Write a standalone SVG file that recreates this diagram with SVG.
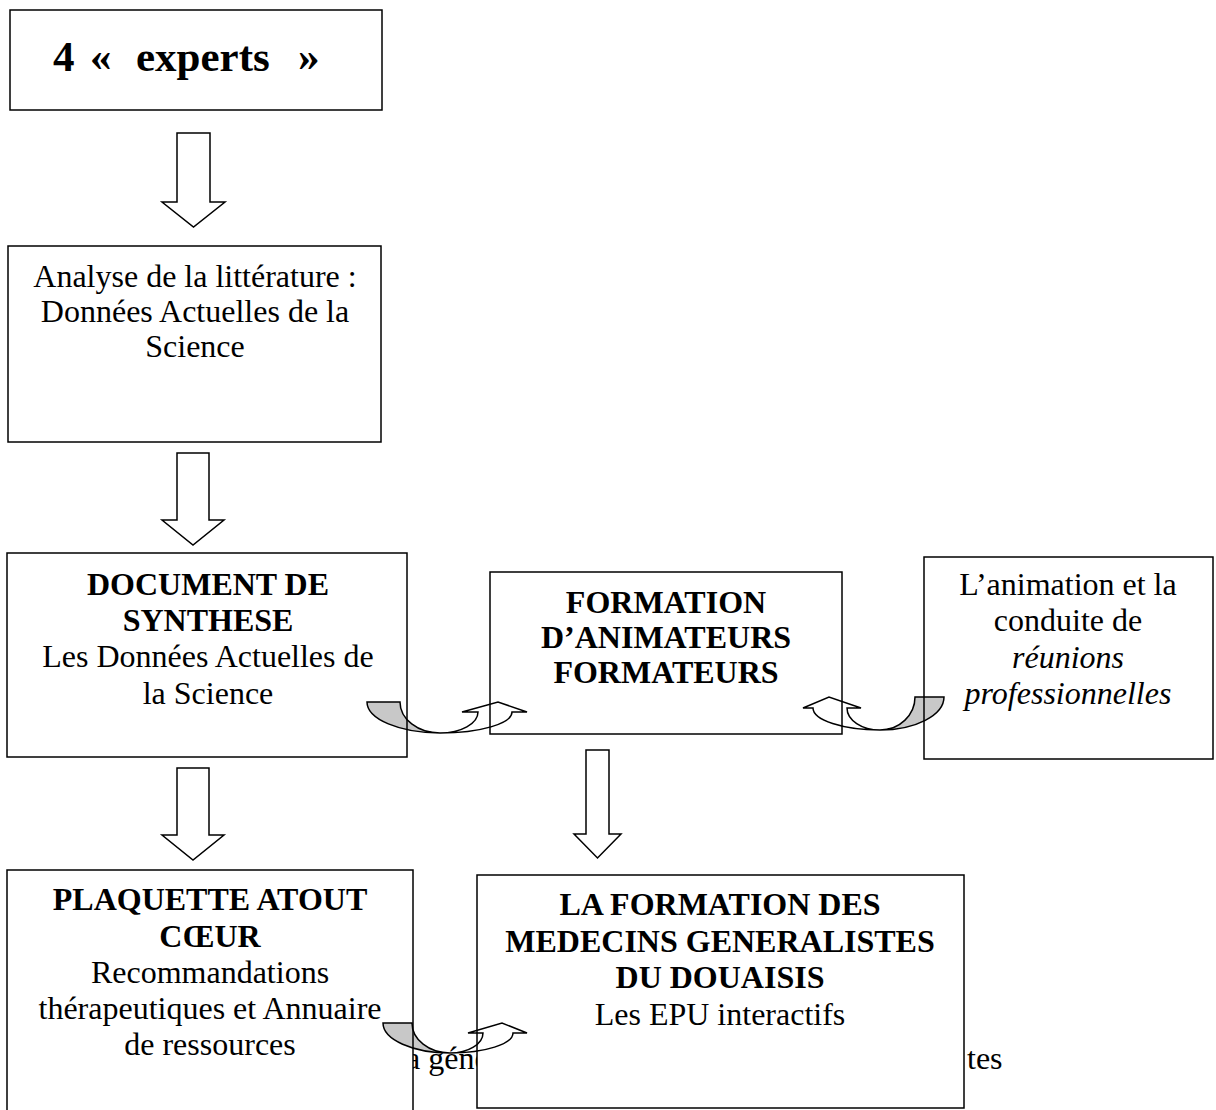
<svg xmlns="http://www.w3.org/2000/svg" width="1216" height="1110" viewBox="0 0 1216 1110">
<style>
.box{fill:none;stroke:#000;stroke-width:1.5}
.fill{fill:#fff;stroke:none}
.t{font-family:"Liberation Serif","Times New Roman",serif;font-size:32px;fill:#000;text-anchor:middle}
.s{text-anchor:start}
.b{font-weight:bold}
.i{font-style:italic}
.ha{fill:#fff;stroke:#000;stroke-width:1.5;stroke-linejoin:miter}
.cg{fill:#c8c8c8;stroke:#000;stroke-width:1.5}
.cw{fill:#fff;stroke:#000;stroke-width:1.5}
</style>
<rect width="1216" height="1110" fill="#fff"/>
<g id="background-text">
<text class="t s" x="406" y="1069">a géné</text>
<text class="t s" x="967" y="1069">tes</text>
</g>
<g id="node-fills">
<rect class="fill" x="10" y="10" width="372" height="100"/>
<rect class="fill" x="8" y="246" width="373" height="196"/>
<rect class="fill" x="7" y="553" width="400" height="204"/>
<rect class="fill" x="490" y="572" width="352" height="162"/>
<rect class="fill" x="924" y="557" width="289" height="202"/>
<rect class="fill" x="7" y="870" width="406" height="245"/>
<rect class="fill" x="477" y="875" width="487" height="233"/>
</g>
<g id="connectors">
<path id="a1" class="ha" d="M177,133 H210 V202 H225 L193.5,227 L162,202 H177 Z"/>
<path id="a2" class="ha" d="M177,453 H209 V520 H224 L193,545 L162,520 H177 Z"/>
<path id="a3" class="ha" d="M177,768 H209 V835 H224 L193,860 L162,835 H177 Z"/>
<path id="a4" class="ha" d="M586,750 H609 V834 H621 L597.5,858 L574,834 H586 Z"/>
<g id="c1">
<path class="cg" d="M367,702 L400,702 A40,31 0 0 0 440,733 A73,31 0 0 1 367,702 Z"/>
<path class="cw" d="M440,733 A72,21 0 0 0 512,712 L527,712 L498,702 L462,712 L478,712 A38,21 0 0 1 440,733 Z"/>
</g>
<g id="c2">
<path class="cg" d="M944,697 L915,697 A35,33 0 0 1 880,730 A64,33 0 0 0 944,697 Z"/>
<path class="cw" d="M880,730 A67,22 0 0 1 813,708 L803,708 L829,697 L861,708 L847,708 A33,22 0 0 0 880,730 Z"/>
</g>
<g id="c3">
<path class="cg" d="M383,1023 L412,1023 A38,30 0 0 0 450,1053 A67,30 0 0 1 383,1023 Z"/>
<path class="cw" d="M450,1053 A63,20 0 0 0 513,1033 L527,1033 L502,1023 L468,1033 L483,1033 A33,20 0 0 1 450,1053 Z"/>
</g>
</g>
<g id="n1">
<rect class="box" x="10" y="10" width="372" height="100"/>
<text class="t s b" x="53" y="71" style="font-size:43px">4<tspan x="90">«</tspan><tspan x="136">experts</tspan><tspan x="298">»</tspan></text>
</g>
<g id="n2">
<rect class="box" x="8" y="246" width="373" height="196"/>
<text class="t" x="195" y="287">Analyse de la littérature :</text>
<text class="t" x="195" y="322">Données Actuelles de la</text>
<text class="t" x="195" y="357">Science</text>
</g>
<g id="n3">
<rect class="box" x="7" y="553" width="400" height="204"/>
<text class="t b" x="208" y="595">DOCUMENT DE</text>
<text class="t b" x="208" y="631">SYNTHESE</text>
<text class="t" x="208" y="667">Les Données Actuelles de</text>
<text class="t" x="208" y="704">la Science</text>
</g>
<g id="n4">
<rect class="box" x="490" y="572" width="352" height="162"/>
<text class="t b" x="666" y="613">FORMATION</text>
<text class="t b" x="666" y="648">D’ANIMATEURS</text>
<text class="t b" x="666" y="683">FORMATEURS</text>
</g>
<g id="n5">
<rect class="box" x="924" y="557" width="289" height="202"/>
<text class="t" x="1068" y="595">L’animation et la</text>
<text class="t" x="1068" y="631">conduite de</text>
<text class="t i" x="1068" y="668">réunions</text>
<text class="t i" x="1068" y="704">professionnelles</text>
</g>
<g id="n6">
<rect class="box" x="7" y="870" width="406" height="245"/>
<text class="t b" x="210" y="910">PLAQUETTE ATOUT</text>
<text class="t b" x="210" y="947">CŒUR</text>
<text class="t" x="210" y="983">Recommandations</text>
<text class="t" x="210" y="1019">thérapeutiques et Annuaire</text>
<text class="t" x="210" y="1055">de ressources</text>
</g>
<g id="n7">
<rect class="box" x="477" y="875" width="487" height="233"/>
<text class="t b" x="720" y="915">LA FORMATION DES</text>
<text class="t b" x="720" y="952">MEDECINS GENERALISTES</text>
<text class="t b" x="720" y="988">DU DOUAISIS</text>
<text class="t" x="720" y="1025">Les EPU interactifs</text>
</g>
</svg>
